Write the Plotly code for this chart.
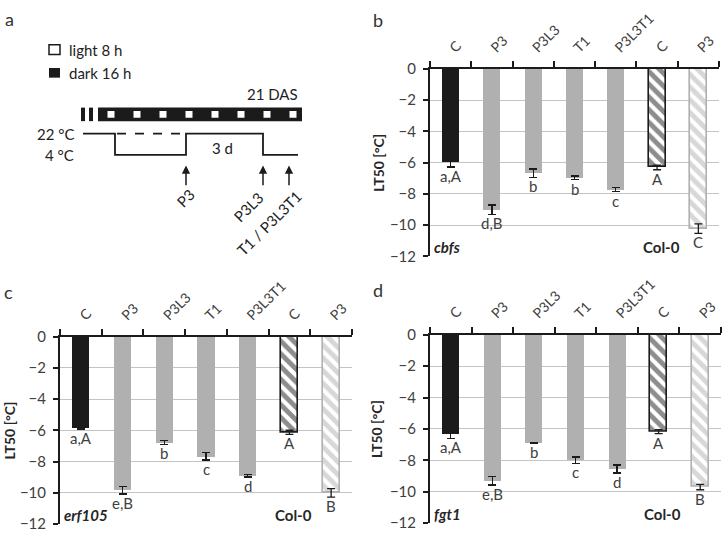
import plotly.graph_objects as go

W, H = 722, 537

# ---------------- data ----------------
CATS = ["C", "P3", "P3L3", "T1", "P3L3T1", "C", "P3"]

B_VALS = [-5.95, -9.0, -6.67, -6.97, -7.73, -6.3, -10.22]
B_ERR = [0.33, 0.3, 0.27, 0.12, 0.13, 0.15, 0.3]
B_LET = ["a,A", "d,B", "b", "b", "c", "A", "C"]

C_VALS = [-5.85, -9.82, -6.77, -7.66, -8.91, -6.12, -10.0]
C_ERR = [0.06, 0.25, 0.11, 0.23, 0.08, 0.13, 0.27]
C_LET = ["a,A", "e,B", "b", "c", "d", "A", "B"]

D_VALS = [-6.3, -9.3, -6.88, -7.98, -8.55, -6.17, -9.7]
D_ERR = [0.3, 0.26, 0.03, 0.2, 0.25, 0.12, 0.17]
D_LET = ["a,A", "e,B", "b", "c", "d", "A", "B"]

Y_TICKS = [0, -2, -4, -6, -8, -10, -12]
GENOTYPES = ["cbfs", "erf105", "fgt1"]
Y_TITLE = "LT50 [°C]"

# ---------------- style ----------------
FONT = "Lato"
TXT = "#404040"
BLACK = "#1b1b1b"
GRAY = "#b0b0b0"
SOLID_IDX = [0, 1, 2, 3, 4]
HATCH_IDX = [5, 6]
SOLID_COLORS = [BLACK, GRAY, GRAY, GRAY, GRAY]
HATCH_COLORS = [BLACK, GRAY]


def px(x):
    return x / W


def py(y):
    return 1 - y / H


fig = go.Figure()

# panel a schematic axis (pixel-like coordinates)
fig.add_trace(go.Scatter(x=[], y=[], xaxis="x", yaxis="y", showlegend=False))
fig.update_layout(
    xaxis=dict(domain=[0, px(361)], range=[0, 361], visible=False, fixedrange=True),
    yaxis=dict(domain=[py(270), 1], range=[270, 0], visible=False, fixedrange=True),
)

# (label, values, errors, letters, genotype, x-extent, y-extent, panel-letter pos, y-title x)
panels = [
    ("b", B_VALS, B_ERR, B_LET, GENOTYPES[0], (430, 719), (61, 255), (378, 10), 379),
    ("c", C_VALS, C_ERR, C_LET, GENOTYPES[1], (60, 352), (338, 532), (8, 292), 9),
    ("d", D_VALS, D_ERR, D_LET, GENOTYPES[2], (430, 721), (336, 531), (378, 290), 377),
]

annotations = []
shapes = []
xpos = list(range(len(CATS)))
bounds = [i + 0.5 for i in range(-1, len(CATS))]

for k, (lab, vals, errs, lets, geno, (x0, x1), (y0, y1), (lx, ly), tx) in enumerate(panels):
    n = k + 2
    xa, ya = f"x{n}", f"y{n}"
    fig.add_trace(go.Bar(
        x=[xpos[i] for i in SOLID_IDX], y=[vals[i] for i in SOLID_IDX],
        xaxis=xa, yaxis=ya, width=0.41, showlegend=False,
        marker=dict(color=SOLID_COLORS, line=dict(width=0)),
        error_y=dict(type="data", array=[errs[i] for i in SOLID_IDX], symmetric=True,
                     color=BLACK, thickness=1.3, width=4),
    ))
    fig.add_trace(go.Bar(
        x=[xpos[i] for i in HATCH_IDX], y=[vals[i] for i in HATCH_IDX],
        xaxis=xa, yaxis=ya, width=0.41, showlegend=False,
        marker=dict(
            color="white",
            line=dict(color=HATCH_COLORS, width=1.6),
            pattern=dict(shape="\\", fgcolor=HATCH_COLORS, bgcolor="white",
                         size=9, solidity=0.55, fillmode="overlay"),
        ),
        error_y=dict(type="data", array=[errs[i] for i in HATCH_IDX], symmetric=True,
                     color=BLACK, thickness=1.3, width=4),
    ))
    fig.update_layout(**{
        f"xaxis{n}": dict(
            domain=[px(x0), px(x1)], anchor=ya, side="top", range=[-0.5, 6.5],
            tickmode="array", tickvals=xpos, ticktext=CATS, tickangle=-45,
            ticks="", showline=True, linecolor=BLACK, linewidth=1.5,
            showgrid=False, zeroline=False, ticklabelstandoff=6,
            tickfont=dict(family=FONT, size=14, color=TXT),
            minor=dict(tickmode="array", tickvals=bounds, ticks="outside",
                       ticklen=6, tickcolor=BLACK, tickwidth=1.5),
            fixedrange=True,
        ),
        f"yaxis{n}": dict(
            domain=[py(y1), py(y0)], anchor=xa, range=[-12, 0],
            tickmode="array", tickvals=Y_TICKS, ticks="outside", ticklen=5,
            tickcolor=BLACK, tickwidth=1.5, showline=True, linecolor=BLACK,
            linewidth=2, showgrid=True, gridcolor="#c4c4c4", gridwidth=1.3,
            zeroline=False, tickfont=dict(family=FONT, size=15, color=TXT),
            ticklabelstandoff=4, fixedrange=True,
        ),
    })
    # y-axis title
    annotations.append(dict(x=px(tx), y=py((y0 + y1) / 2), xref="paper", yref="paper",
                            text=f"<b>{Y_TITLE}</b>", textangle=-90, showarrow=False,
                            xanchor="center", yanchor="middle",
                            font=dict(family=FONT, size=14, color="#262626")))
    # letters below bars
    for i, (v, e, t) in enumerate(zip(vals, errs, lets)):
        annotations.append(dict(x=i, y=v - e, xref=xa, yref=ya, text=t,
                                showarrow=False, xanchor="center", yanchor="top", yshift=2,
                                font=dict(family=FONT, size=15, color=TXT)))
    annotations.append(dict(x=-0.45, y=-11.4, xref=xa, yref=ya,
                            text=f"<b><i>{geno}</i></b>", showarrow=False,
                            xanchor="left", yanchor="middle",
                            font=dict(family=FONT, size=15, color="#262626")))
    annotations.append(dict(x=5.1, y=-11.4, xref=xa, yref=ya, text="<b>Col-0</b>",
                            showarrow=False, xanchor="center", yanchor="middle",
                            font=dict(family=FONT, size=15, color="#262626")))
    annotations.append(dict(x=px(lx), y=py(ly), xref="paper", yref="paper", text=lab,
                            showarrow=False, xanchor="center", yanchor="middle",
                            font=dict(family=FONT, size=18, color="#333")))

# ---------------- panel a ----------------
annotations.append(dict(x=px(9), y=py(9), xref="paper", yref="paper", text="a",
                        showarrow=False, xanchor="center", yanchor="middle",
                        font=dict(family=FONT, size=18, color="#333")))

DIA_FONT = dict(family=FONT, size=15, color="#222")


def txt(x, y, t, xanchor="center", angle=0):
    annotations.append(dict(x=x, y=y, xref="x", yref="y", text=t, showarrow=False,
                            xanchor=xanchor, yanchor="middle", textangle=angle,
                            font=DIA_FONT))


def rect(xa0, ya0, xa1, ya1, fill, line="black", lw=0):
    shapes.append(dict(type="rect", xref="x", yref="y", x0=xa0, y0=ya0, x1=xa1, y1=ya1,
                       fillcolor=fill, line=dict(color=line, width=lw)))


# legend
rect(49, 36, 60, 46, "white", BLACK, 1.5)
rect(49, 60, 60, 70, BLACK)
txt(67, 41, "light 8 h", "left")
txt(67, 65, "dark 16 h", "left")
txt(300, 87, "21 DAS", "right")

# day/night band
rect(81, 101, 85, 115, BLACK)
rect(89, 101, 93, 115, BLACK)
rect(98, 101, 302, 115, BLACK)
for cx in [111 + 26 * j for j in range(8)]:
    rect(cx - 3.5, 104.5, cx + 3.5, 111.5, "white")

# temperature course
shapes.append(dict(type="path", xref="x", yref="y",
                   path="M83,128 H115 V150 H186 V128 H263 V150 H298",
                   line=dict(color=BLACK, width=1.8)))
shapes.append(dict(type="line", xref="x", yref="y", x0=117, y0=128, x1=184, y1=128,
                   line=dict(color=BLACK, width=1.8, dash="dash")))
txt(76, 128, "22 °C", "right")
txt(76, 150, "4 °C", "right")
txt(222, 143, "3 d")

# arrows
for ax_ in [186, 263, 289]:
    annotations.append(dict(x=ax_, y=161, ax=ax_, ay=183, xref="x", yref="y",
                            axref="x", ayref="y", text="", showarrow=True,
                            arrowhead=2, arrowsize=1.1, arrowwidth=1.5,
                            arrowcolor=BLACK))

txt(185.5, 195, "P3", angle=-45)
txt(248, 203.5, "P3L3", angle=-45)
txt(269, 220, "T1 / P3L3T1", angle=-45)

fig.update_layout(
    width=W, height=H, margin=dict(l=0, r=0, t=0, b=0),
    paper_bgcolor="white", plot_bgcolor="white",
    annotations=annotations, shapes=shapes, bargap=0, barmode="overlay",
    font=dict(family=FONT, color=TXT),
)

fig.write_html("out.html", config={"displayModeBar": False},
               post_script="document.body.style.margin='0';document.body.style.overflow='hidden';")
